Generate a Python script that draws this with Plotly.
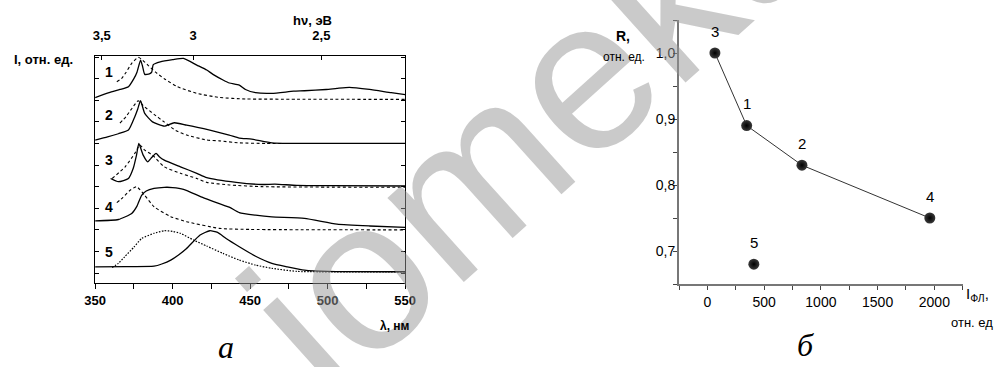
import plotly.graph_objects as go

W, H = 1006, 367

# ---------------- panel (a): PL spectra, offset curves ----------------
c1s_x = [350, 359, 366, 371.5, 375, 377, 379.3, 380.5, 382, 385, 386.5, 387.5, 392, 400, 407, 415.6, 422, 426,
         432.5, 436.6, 443, 447, 453.5, 464, 478, 485, 499, 506, 514, 527, 541, 550]
c1s_y = [8.12, 8.35, 8.5, 8.63, 9.0, 9.3, 9.86, 9.6, 9.2, 9.22, 9.3, 9.65, 9.78, 9.88, 9.94, 9.63, 9.4, 9.2,
         8.94, 8.8, 8.7, 8.5, 8.35, 8.32, 8.42, 8.44, 8.5, 8.55, 8.6, 8.5, 8.35, 8.26]
c1d_x = [364, 367, 370, 373.5, 377.8, 380, 384, 389, 394.6, 403, 415.6, 430, 447, 480, 550]
c1d_y = [8.86, 9.0, 9.3, 9.7, 9.99, 9.9, 9.63, 9.3, 9.0, 8.63, 8.32, 8.13, 8.06, 8.05, 8.04]

c2s_x = [350, 358, 365, 371.5, 375.6, 377.5, 379.3, 382, 387, 394.6, 401, 409, 416, 424, 436.5, 443, 451, 464, 480, 550]
c2s_y = [6.16, 6.3, 6.45, 6.62, 7.24, 7.6, 7.98, 7.39, 7.0, 6.8, 6.96, 6.85, 6.75, 6.62, 6.39, 6.25, 6.2, 6.03, 6.0, 6.0]
c2d_x = [366, 370, 374, 377.8, 381, 388, 394.5, 402, 409, 422, 430, 443, 460, 550]
c2d_y = [6.94, 7.25, 7.65, 7.98, 7.75, 7.35, 7.0, 6.6, 6.39, 6.16, 6.12, 6.03, 6.0, 6.0]

c3s_x = [360, 365, 371.5, 374.6, 376.7, 378.2, 381, 384, 386, 389.3, 391.4, 394.6, 405, 415.6, 422, 441, 457.7,
         466, 480, 500, 550]
c3s_y = [4.38, 4.23, 4.38, 4.85, 5.46, 6.0, 5.46, 5.15, 5.31, 5.54, 5.39, 5.23, 4.92, 4.62, 4.42, 4.2, 4.1,
         4.12, 4.06, 4.05, 4.03]
c3d_x = [361, 369.4, 375.6, 378.8, 382, 387, 394.6, 405, 415.6, 422, 436.6, 457.7, 500, 550]
c3d_y = [4.38, 4.92, 5.54, 5.93, 5.69, 5.46, 4.92, 4.62, 4.38, 4.2, 4.08, 4.0, 3.98, 3.97]

c4s_x = [350, 365, 373.6, 377, 380, 383, 388, 394.6, 400, 407, 420, 436.5, 443, 453.5, 464, 485, 506, 527, 550]
c4s_y = [2.42, 2.48, 2.76, 3.1, 3.6, 3.8, 3.92, 3.97, 3.96, 3.88, 3.48, 3.05, 2.8, 2.68, 2.6, 2.53, 2.27, 2.18, 2.12]
c4d_x = [364, 368, 372, 376.7, 382, 388, 398.8, 409, 430, 450, 550]
c4d_y = [3.26, 3.5, 3.8, 4.0, 3.6, 3.07, 2.61, 2.38, 2.07, 2.02, 2.0]

c5s_x = [350, 370, 388, 393, 398.8, 404, 409, 417.7, 424, 429, 434.5, 443, 453.5, 464, 474, 485, 500, 550]
c5s_y = [0.29, 0.3, 0.32, 0.42, 0.6, 0.85, 1.14, 1.76, 1.96, 1.88, 1.6, 1.22, 0.78, 0.45, 0.29, 0.14, 0.08, 0.06]
c5d_x = [361, 365, 369, 375, 380, 388, 394.6, 400, 405, 413.5, 422, 432.5, 443, 453.5, 464, 480, 550]
c5d_y = [0.26, 0.45, 0.75, 1.2, 1.6, 1.84, 1.96, 1.93, 1.84, 1.53, 1.25, 0.91, 0.6, 0.37, 0.22, 0.08, 0.05]

curve_labels = ['1', '2', '3', '4', '5']
curve_label_y = [9.29, 7.31, 5.23, 3.08, 0.99]
curve_label_x = 358.8

wl_ticks = [350, 400, 450, 500, 550]
energy_ticks = [3.5, 3.0, 2.5]
energy_text = ['3,5', '3', '2,5']

# ---------------- panel (б): R vs I_PL ----------------
samples = ['3', '1', '2', '4', '5']
i_pl = [66, 346, 833, 1960, 409]
r_val = [1.0, 0.89, 0.83, 0.75, 0.68]
trend_n = 4
r_ticks = [0.7, 0.8, 0.9, 1.0]
r_text = ['0,7', '0,8', '0,9', '1,0']
ipl_ticks = [0, 500, 1000, 1500, 2000]

ARIAL = 'Arial, Liberation Sans, sans-serif'
TIMES = 'Times New Roman, Liberation Serif, serif'

fig = go.Figure()

pairs = [(c1s_x, c1s_y, c1d_x, c1d_y), (c2s_x, c2s_y, c2d_x, c2d_y), (c3s_x, c3s_y, c3d_x, c3d_y),
         (c4s_x, c4s_y, c4d_x, c4d_y), (c5s_x, c5s_y, c5d_x, c5d_y)]
for k, (sx, sy, dx, dy) in enumerate(pairs):
    fig.add_trace(go.Scatter(x=dx, y=dy, mode='lines', xaxis='x', yaxis='y',
                             line=dict(color='black', width=1.2 if k == 4 else 1.1,
                                       dash='1.5px,1.5px' if k == 4 else '3px,2.5px',
                                       shape='spline', smoothing=0.5),
                             showlegend=False, hoverinfo='skip'))
    fig.add_trace(go.Scatter(x=sx, y=sy, mode='lines', xaxis='x', yaxis='y',
                             line=dict(color='black', width=1.3, shape='spline', smoothing=0.5),
                             showlegend=False, hoverinfo='skip'))

# top energy axis (invisible trace to activate it)
fig.add_trace(go.Scatter(x=[350, 550], y=[0, 0], xaxis='x2', yaxis='y', mode='lines',
                         line=dict(width=0), showlegend=False, hoverinfo='skip', opacity=0))

# right panel
fig.add_trace(go.Scatter(x=i_pl[:trend_n], y=r_val[:trend_n], mode='lines', xaxis='x3', yaxis='y3',
                         line=dict(color='#333', width=1), showlegend=False, hoverinfo='skip'))
fig.add_trace(go.Scatter(x=i_pl, y=r_val, mode='markers', xaxis='x3', yaxis='y3',
                         marker=dict(size=11, color='#3a3a3a', line=dict(width=0),
                                     gradient=dict(type='radial', color='#000000')),
                         showlegend=False, hoverinfo='skip'))

ann = []
for lab, ly in zip(curve_labels, curve_label_y):
    ann.append(dict(x=curve_label_x, y=ly, xref='x', yref='y', text='<b>' + lab + '</b>', showarrow=False,
                    font=dict(family=ARIAL, size=14, color='black'), xanchor='center', yanchor='middle'))
for s, xv, yv in zip(samples, i_pl, r_val):
    ann.append(dict(x=xv, y=yv, xref='x3', yref='y3', text=s, showarrow=False, yshift=22,
                    font=dict(family=ARIAL, size=15, color='black'), xanchor='center', yanchor='middle'))


def px(x, y, text, size, bold=False, italic=False, family=ARIAL, xanchor='center', color='black', **kw):
    t = text
    if bold:
        t = '<b>' + t + '</b>'
    if italic:
        t = '<i>' + t + '</i>'
    d = dict(x=x / W, y=1 - y / H, xref='paper', yref='paper', text=t, showarrow=False,
             font=dict(family=family, size=size, color=color), xanchor=xanchor, yanchor='middle')
    d.update(kw)
    return d


# watermark first so other texts draw over it
ann.insert(0, px(537, 116, 'iomeka', 215, color='rgba(150,150,150,0.5)', textangle=-42))

ann += [
    px(1, 60, 'I, отн. ед.', 13, bold=True, xanchor='left'),
    px(308, 21, 'hν, эВ', 13, bold=True),
    px(393, 326, 'λ, нм', 12, bold=True),
    px(220, 347, 'а', 32, italic=True, family=TIMES),
    px(626, 36, 'R,', 14, bold=True),
    px(627, 57, 'отн. ед.', 12),
    px(974, 294, 'I<sub>ФЛ</sub>,', 15, xanchor='left'),
    px(1006, 322, 'отн. ед', 13, xanchor='right'),
    px(812, 345, 'б', 32, italic=True, family=TIMES),
]

lam_from_e = [1239.84 / e for e in energy_ticks]

fig.update_layout(
    width=W, height=H, margin=dict(l=0, r=0, t=0, b=0),
    paper_bgcolor='white', plot_bgcolor='white',
    showlegend=False,
    xaxis=dict(domain=[86 / W, 403 / W], range=[350, 550], tickvals=wl_ticks, ticks='outside', ticklen=5,
               tickcolor='black', showline=True, linecolor='black', linewidth=1, mirror=True,
               showgrid=False, zeroline=False, anchor='y',
               minor=dict(dtick=25, ticks='outside', ticklen=5, tickcolor='black'),
               tickfont=dict(family=ARIAL, size=13, color='black', weight='bold')),
    xaxis2=dict(overlaying='x', side='top', range=[350, 550], tickvals=lam_from_e, ticktext=energy_text,
                ticks='inside', ticklen=4, tickcolor='black', showgrid=False, zeroline=False, anchor='y',
                showline=False, ticklabelstandoff=12,
                tickfont=dict(family=ARIAL, size=13, color='black', weight='bold')),
    yaxis=dict(domain=[(H - 283) / H, (H - 56) / H], range=[-0.46, 10.05], tickvals=list(range(11)),
               ticks='inside', ticklen=4, tickcolor='black', showticklabels=False, showline=True,
               linecolor='black', linewidth=1, mirror='ticks', showgrid=False, zeroline=False, anchor='x'),
    xaxis3=dict(domain=[683 / W, 973 / W], range=[-250, 2250], tickvals=ipl_ticks, ticks='outside', ticklen=4,
                tickcolor='#444', showline=True, linecolor='#777', linewidth=2, showgrid=False,
                zeroline=False, anchor='y3',
                minor=dict(dtick=250, tick0=-250, ticks='outside', ticklen=4, tickcolor='#444'),
                tickfont=dict(family=ARIAL, size=14, color='black')),
    yaxis3=dict(domain=[(H - 284) / H, (H - 20) / H], range=[0.65, 1.05], tickvals=r_ticks, ticktext=r_text,
                ticks='outside', ticklen=4, tickcolor='#444', showline=True, linecolor='#777', linewidth=2,
                showgrid=False, zeroline=False, anchor='x3', ticklabelstandoff=-5,
                minor=dict(dtick=0.05, tick0=0.65, ticks='outside', ticklen=4, tickcolor='#444'),
                tickfont=dict(family=ARIAL, size=14, color='black')),
    annotations=ann,
)

fig.write_html('out.html', config={'displayModeBar': False},
               post_script="document.body.style.margin='0';document.body.style.padding='0';")
